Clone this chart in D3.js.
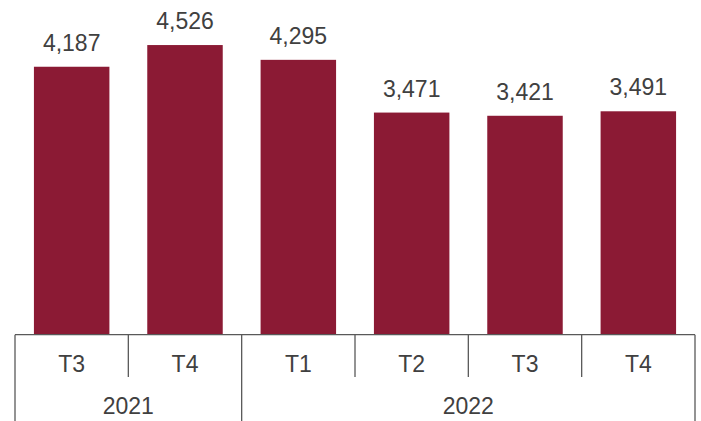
<!DOCTYPE html>
<html>
<head>
<meta charset="utf-8">
<script src="https://cdn.jsdelivr.net/npm/d3@7"></script>
<style>
  body { margin: 0; background: #fff; }
  text { font-family: "Liberation Sans", Arial, sans-serif; fill: #404040; }
</style>
</head>
<body>
<div id="chart"></div>
<script>
let quarters = ["T3", "T4", "T1", "T2", "T3", "T4"];
let years = ["2021", "2021", "2022", "2022", "2022", "2022"];
let values = [4187, 4526, 4295, 3471, 3421, 3491];
let groups = [{ year: "2021", start: 0, end: 2 }, { year: "2022", start: 2, end: 6 }];

let svgWidth = 701;
let svgHeight = 421;
let left = 15, right = 695, baseY = 334.7;

let svg = d3.select("#chart")
	.append("svg")
	.attr("width", svgWidth)
	.attr("height", svgHeight);

let data = values.map((v, i) => ({ i: i, q: quarters[i], y: years[i], v: v }));

let x = d3.scaleBand()
	.domain(d3.range(values.length))
	.range([left, right])
	.paddingInner(0.334)
	.paddingOuter(0.167);

let yScale = d3.scaleLinear()
	.domain([0, 5230])
	.range([baseY, 0]);

svg.selectAll("rect.bar")
	.data(data)
	.enter()
	.append("rect")
	.attr("class", "bar")
	.attr("x", d => x(d.i))
	.attr("y", d => yScale(d.v))
	.attr("width", x.bandwidth())
	.attr("height", d => baseY - yScale(d.v))
	.attr("fill", "#8b1a34");

svg.selectAll("text.val")
	.data(data)
	.enter()
	.append("text")
	.attr("class", "val")
	.attr("x", d => x(d.i) + x.bandwidth() / 2)
	.attr("y", d => yScale(d.v) - 16)
	.attr("text-anchor", "middle")
	.attr("font-size", "23px")
	.text(d => d3.format(",")(d.v));

// axis
let step = (right - left) / values.length;
let lineColor = "#595959";

svg.append("line")
	.attr("x1", left).attr("x2", right)
	.attr("y1", baseY).attr("y2", baseY)
	.attr("stroke", lineColor).attr("stroke-width", 1.3);

// quarter separators
d3.range(values.length + 1).forEach(function(k) {
	let isGroup = groups.some(g => g.start === k || g.end === k);
	svg.append("line")
		.attr("x1", left + k * step).attr("x2", left + k * step)
		.attr("y1", baseY).attr("y2", isGroup ? svgHeight : 377)
		.attr("stroke", lineColor).attr("stroke-width", 1.3);
});

svg.selectAll("text.q")
	.data(data)
	.enter()
	.append("text")
	.attr("class", "q")
	.attr("x", d => left + (d.i + 0.5) * step)
	.attr("y", 372)
	.attr("text-anchor", "middle")
	.attr("font-size", "23px")
	.text(d => d.q);

svg.selectAll("text.yr")
	.data(groups)
	.enter()
	.append("text")
	.attr("class", "yr")
	.attr("x", g => left + (g.start + g.end) / 2 * step)
	.attr("y", 414)
	.attr("text-anchor", "middle")
	.attr("font-size", "23px")
	.text(g => g.year);
</script>
</body>
</html>
